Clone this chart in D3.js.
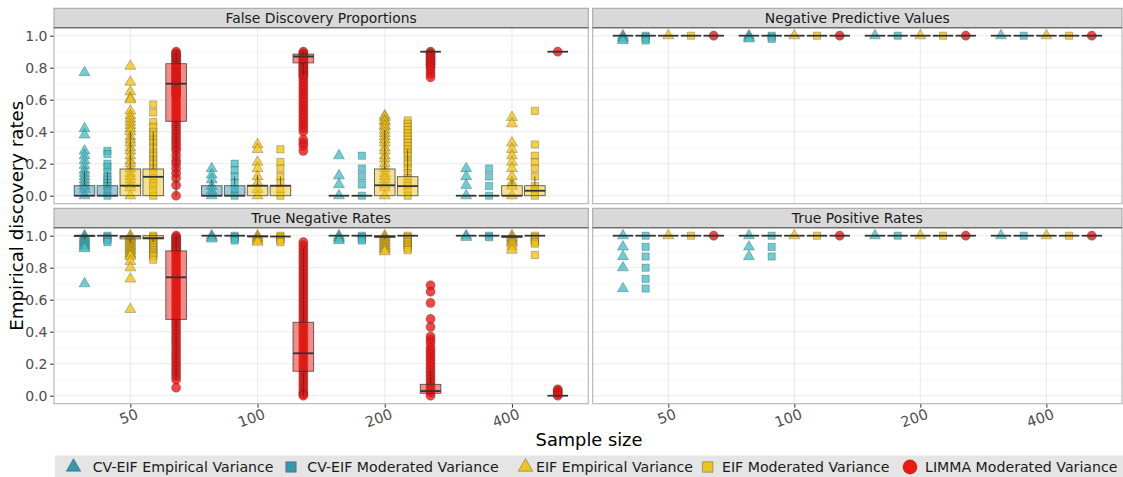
<!DOCTYPE html>
<html>
<head>
<meta charset="utf-8">
<script src="https://cdn.jsdelivr.net/npm/d3@7"></script>
<style>
  body { margin: 0; background: #fff; }
  svg { display: block; font-family: "DejaVu Sans", sans-serif; }
</style>
</head>
<body>
<svg id="chart" width="1123" height="477"></svg>
<script>
const sampleSizes = ['50', '100', '200', '400']
const methods = [
  'CV-EIF Empirical Variance',
  'CV-EIF Moderated Variance',
  'EIF Empirical Variance',
  'EIF Moderated Variance',
  'LIMMA Moderated Variance'
]
const methodShapes = ['triangle', 'square', 'triangle', 'square', 'circle']
const boxColors = ['#3597B0', '#3597B0', '#EEC421', '#EEC421', '#EE1A10']
const pointColors = ['#40C0C8', '#40C0C8', '#F4C20D', '#F4C20D', '#EE1111']
const yTicks = [0, 0.2, 0.4, 0.6, 0.8, 1.0]
const yMinor = [0.1, 0.3, 0.5, 0.7, 0.9]
const facetTitles = ['False Discovery Proportions', 'Negative Predictive Values', 'True Negative Rates', 'True Positive Rates']

// box stats: [lower whisker, q1, median, q3, upper whisker]
// order: sample size 50,100,200,400, each with the 5 methods
const fdpBox = [
  [0, 0, 0, 0.0625, 0.15], [0, 0, 0, 0.0625, 0.15], [0, 0, 0.0625, 0.167, 0.4], [0, 0, 0.118, 0.167, 0.4], [0, 0.465, 0.70, 0.825, 0.9],
  [0, 0, 0, 0.0625, 0.1], [0, 0, 0, 0.0625, 0.12], [0, 0, 0.0625, 0.0625, 0.13], [0, 0, 0.0625, 0.0625, 0.12], [0.75, 0.83, 0.87, 0.885, 0.9],
  [0, 0, 0, 0, 0], [0, 0, 0, 0, 0], [0, 0, 0.065, 0.167, 0.41], [0, 0, 0.06, 0.119, 0.29], [0.9, 0.9, 0.9, 0.9, 0.9],
  [0, 0, 0, 0, 0], [0, 0, 0, 0, 0], [0, 0, 0, 0.0625, 0.1], [0, 0, 0.031, 0.0625, 0.12], [0.9, 0.9, 0.9, 0.9, 0.9]
]
const fdpPts = [
  [0.77, 0.42, 0.38, 0.28, 0.25, 0.22, 0.19, 0.16, 0.14, 0.12, 0.1, 0.08, 0.06, 0.04, 0],
  [0.28, 0.26, 0.2, 0.18, 0.15, 0.12, 0.1, 0.08, 0.06, 0.03, 0],
  [0.81, 0.71, 0.65, 0.61, 0.6, 0.53, 0.5, 0.48, 0.46, 0.44, 0.42, 0.4, 0.37, 0.35, 0.33, 0.3, 0.28, 0.25, 0.22, 0.2, 0.17, 0.14, 0.12, 0.1, 0.07, 0.05, 0],
  [0.57, 0.52, 0.46, 0.43, 0.4, 0.38, 0.35, 0.33, 0.3, 0.27, 0.25, 0.22, 0.2, 0.17, 0.14, 0.11, 0.08, 0.06, 0.03, 0],
  [0.9, 0.89, 0.88, 0.87, 0.86, 0.85, 0.84, 0.83, 0.82, 0.81, 0.8, 0.79, 0.78, 0.77, 0.76, 0.75, 0.74, 0.73, 0.72, 0.71, 0.7, 0.69, 0.68, 0.67, 0.66, 0.65, 0.64, 0.63, 0.62, 0.6, 0.58, 0.56, 0.54, 0.52, 0.5, 0.48, 0.46, 0.44, 0.42, 0.4, 0.38, 0.36, 0.34, 0.32, 0.3, 0.28, 0.25, 0.22, 0.2, 0.17, 0.14, 0.11, 0.065, 0],
  [0.17, 0.13, 0.1, 0.06, 0.03, 0],
  [0.2, 0.16, 0.12, 0.08, 0.04, 0],
  [0.32, 0.29, 0.21, 0.17, 0.12, 0.08, 0.04, 0],
  [0.29, 0.21, 0.17, 0.12, 0.08, 0.04, 0],
  [0.9, 0.89, 0.88, 0.87, 0.86, 0.85, 0.84, 0.83, 0.82, 0.81, 0.8, 0.79, 0.78, 0.77, 0.76, 0.75, 0.74, 0.72, 0.7, 0.68, 0.66, 0.64, 0.62, 0.6, 0.58, 0.56, 0.54, 0.52, 0.5, 0.48, 0.46, 0.44, 0.42, 0.4, 0.35, 0.33, 0.31, 0.28],
  [0.25, 0.125, 0.07, 0],
  [0.25, 0.17, 0.12, 0.07, 0],
  [0.5, 0.49, 0.47, 0.46, 0.44, 0.43, 0.41, 0.39, 0.37, 0.35, 0.33, 0.3, 0.28, 0.25, 0.23, 0.2, 0.17, 0.14, 0.12, 0.1, 0.07, 0.05, 0],
  [0.47, 0.45, 0.43, 0.41, 0.39, 0.37, 0.35, 0.33, 0.31, 0.29, 0.27, 0.25, 0.22, 0.2, 0.17, 0.14, 0.11, 0.08, 0.06, 0.03, 0],
  [0.9, 0.89, 0.88, 0.87, 0.86, 0.85, 0.84, 0.83, 0.82, 0.81, 0.8, 0.78, 0.76, 0.74],
  [0.17, 0.12, 0.065, 0],
  [0.17, 0.12, 0.06, 0],
  [0.49, 0.45, 0.33, 0.29, 0.25, 0.21, 0.17, 0.12, 0.08, 0.06, 0],
  [0.53, 0.32, 0.25, 0.21, 0.17, 0.12, 0.06, 0.03, 0],
  [0.9]
]

const npvBox = [
  [1, 1, 1, 1, 1], [1, 1, 1, 1, 1], [1, 1, 1, 1, 1], [1, 1, 1, 1, 1], [1, 1, 1, 1, 1],
  [1, 1, 1, 1, 1], [1, 1, 1, 1, 1], [1, 1, 1, 1, 1], [1, 1, 1, 1, 1], [1, 1, 1, 1, 1],
  [1, 1, 1, 1, 1], [1, 1, 1, 1, 1], [1, 1, 1, 1, 1], [1, 1, 1, 1, 1], [1, 1, 1, 1, 1],
  [1, 1, 1, 1, 1], [1, 1, 1, 1, 1], [1, 1, 1, 1, 1], [1, 1, 1, 1, 1], [1, 1, 1, 1, 1]
]
const npvPts = [
  [1, 0.99, 0.98, 0.97], [1, 0.99, 0.98, 0.97], [1], [1], [1],
  [1, 0.99, 0.98], [1, 0.99, 0.98], [1], [1], [1],
  [1], [1], [1], [1], [1],
  [1], [1], [1], [1], [1]
]

const tnrBox = [
  [0.98, 0.995, 1, 1, 1], [1, 1, 1, 1, 1], [0.955, 0.98, 0.995, 1, 1], [0.96, 0.98, 0.985, 1, 1], [0.1, 0.477, 0.74, 0.905, 1],
  [1, 1, 1, 1, 1], [1, 1, 1, 1, 1], [0.99, 0.995, 0.995, 1, 1], [1, 1, 0.995, 1, 1], [0, 0.153, 0.265, 0.459, 0.92],
  [1, 1, 1, 1, 1], [1, 1, 1, 1, 1], [0.98, 0.99, 0.995, 1, 1], [1, 1, 1, 1, 1], [0, 0.015, 0.029, 0.071, 0.155],
  [1, 1, 1, 1, 1], [1, 1, 1, 1, 1], [0.98, 0.99, 0.995, 1, 1], [1, 1, 1, 1, 1], [0, 0, 0, 0, 0]
]
const tnrPts = [
  [1, 0.99, 0.98, 0.97, 0.96, 0.95, 0.94, 0.93, 0.92, 0.7],
  [1, 0.99, 0.98, 0.97, 0.96],
  [1, 0.99, 0.98, 0.97, 0.96, 0.95, 0.94, 0.93, 0.92, 0.91, 0.9, 0.89, 0.88, 0.87, 0.84, 0.8, 0.73, 0.54],
  [1, 0.99, 0.98, 0.97, 0.96, 0.95, 0.94, 0.93, 0.92, 0.91, 0.9, 0.89, 0.88, 0.87, 0.85],
  [1, 0.99, 0.98, 0.97, 0.96, 0.95, 0.94, 0.93, 0.92, 0.91, 0.9, 0.88, 0.86, 0.84, 0.82, 0.8, 0.78, 0.76, 0.74, 0.72, 0.7, 0.68, 0.66, 0.64, 0.62, 0.6, 0.58, 0.56, 0.54, 0.52, 0.5, 0.48, 0.46, 0.44, 0.42, 0.4, 0.38, 0.36, 0.34, 0.32, 0.3, 0.28, 0.26, 0.24, 0.22, 0.2, 0.18, 0.16, 0.14, 0.12, 0.1, 0.05],
  [1, 0.99, 0.98],
  [1, 0.99, 0.98, 0.97],
  [1, 0.99, 0.98, 0.97, 0.96],
  [1, 0.99, 0.98, 0.97, 0.96],
  [0.96, 0.94, 0.92, 0.9, 0.88, 0.86, 0.84, 0.82, 0.8, 0.78, 0.76, 0.74, 0.72, 0.7, 0.68, 0.66, 0.64, 0.62, 0.6, 0.58, 0.56, 0.54, 0.52, 0.5, 0.48, 0.46, 0.44, 0.42, 0.4, 0.38, 0.36, 0.34, 0.32, 0.3, 0.28, 0.26, 0.24, 0.22, 0.2, 0.18, 0.16, 0.14, 0.12, 0.1, 0.08, 0.06, 0.04, 0.02, 0.01, 0],
  [1, 0.99, 0.98, 0.97],
  [1, 0.99, 0.98, 0.97],
  [1, 0.99, 0.98, 0.97, 0.96, 0.95, 0.94, 0.93, 0.92, 0.91, 0.9],
  [1, 0.99, 0.98, 0.97, 0.96, 0.95, 0.94, 0.93, 0.92, 0.91],
  [0.69, 0.65, 0.58, 0.48, 0.43, 0.37, 0.35, 0.33, 0.3, 0.28, 0.26, 0.24, 0.22, 0.2, 0.18, 0.16, 0.14, 0.12, 0.1, 0.08, 0.06, 0.04, 0.02, 0],
  [1, 0.99],
  [1, 0.99],
  [1, 0.99, 0.98, 0.97, 0.96, 0.95, 0.93, 0.91],
  [1, 0.99, 0.98, 0.97, 0.96, 0.95, 0.88],
  [0.04, 0.03, 0.02, 0.01, 0]
]

const tprBox = npvBox
const tprPts = [
  [1, 0.93, 0.87, 0.8, 0.67], [1, 0.93, 0.87, 0.8, 0.73, 0.67], [1], [1], [1],
  [1, 0.93, 0.87], [1, 0.93, 0.87], [1], [1], [1],
  [1], [1], [1], [1], [1],
  [1], [1], [1], [1], [1]
]

const svg = d3.select('#chart')

const panelCols = [[54, 588.3], [592.7, 1122]]
const panelRows = [27.7, 227.7]
const panelH = 176
const stripH = 19.4

const facets = [
  { title: facetTitles[0], box: fdpBox, pts: fdpPts, col: 0, row: 0 },
  { title: facetTitles[1], box: npvBox, pts: npvPts, col: 1, row: 0 },
  { title: facetTitles[2], box: tnrBox, pts: tnrPts, col: 0, row: 1 },
  { title: facetTitles[3], box: tprBox, pts: tprPts, col: 1, row: 1 }
]

function symbolFor(shape) {
  if (shape === 'triangle') return d3.symbol().type(d3.symbolTriangle).size(52)
  if (shape === 'square') return d3.symbol().type(d3.symbolSquare).size(52)
  return d3.symbol().type(d3.symbolCircle).size(66)
}

function drawPanel(f) {
  const [x0, x1] = panelCols[f.col]
  const top = panelRows[f.row]
  const bottom = top + panelH

  const x = d3.scalePoint().domain(sampleSizes).range([x0, x1]).padding(0.6)
  const y = d3.scaleLinear().domain([-0.05, 1.05]).range([bottom, top])
  const step = x.step()
  const dodge = i => (i - 2) * 0.18 * step
  const halfW = 0.081 * step

  const g = svg.append('g')

  g.append('rect')
    .attr('x', x0).attr('y', top).attr('width', x1 - x0).attr('height', panelH)
    .attr('fill', '#fff')

  g.selectAll('line.minor').data(yMinor).enter().append('line')
    .attr('x1', x0).attr('x2', x1)
    .attr('y1', d => y(d)).attr('y2', d => y(d))
    .attr('stroke', '#F2F2F2').attr('stroke-width', 0.6)
  g.selectAll('line.major').data(yTicks).enter().append('line')
    .attr('x1', x0).attr('x2', x1)
    .attr('y1', d => y(d)).attr('y2', d => y(d))
    .attr('stroke', '#EBEBEB').attr('stroke-width', 1.1)
  g.selectAll('line.vmajor').data(sampleSizes).enter().append('line')
    .attr('x1', d => x(d)).attr('x2', d => x(d))
    .attr('y1', top).attr('y2', bottom)
    .attr('stroke', '#EBEBEB').attr('stroke-width', 1.1)

  // points first, boxes on top with transparent fill
  sampleSizes.forEach((s, si) => {
    methods.forEach((m, mi) => {
      const cx = x(s) + dodge(mi)
      const vals = f.pts[si * 5 + mi]
      g.append('g').selectAll('path').data(vals).enter().append('path')
        .attr('d', symbolFor(methodShapes[mi]))
        .attr('transform', d => `translate(${cx},${y(d)})`)
        .attr('fill', pointColors[mi])
        .attr('fill-opacity', 0.78)
        .attr('stroke', '#333')
        .attr('stroke-opacity', 0.5)
        .attr('stroke-width', 0.6)
    })
  })

  sampleSizes.forEach((s, si) => {
    methods.forEach((m, mi) => {
      const cx = x(s) + dodge(mi)
      const [lo, q1, med, q3, hi] = f.box[si * 5 + mi]
      const bg = g.append('g')
      bg.append('line')
        .attr('x1', cx).attr('x2', cx).attr('y1', y(hi)).attr('y2', y(q3))
        .attr('stroke', '#333').attr('stroke-opacity', 0.8).attr('stroke-width', 0.9)
      bg.append('line')
        .attr('x1', cx).attr('x2', cx).attr('y1', y(q1)).attr('y2', y(lo))
        .attr('stroke', '#333').attr('stroke-opacity', 0.8).attr('stroke-width', 0.9)
      bg.append('rect')
        .attr('x', cx - halfW).attr('width', 2 * halfW)
        .attr('y', y(q3)).attr('height', Math.max(0, y(q1) - y(q3)))
        .attr('fill', boxColors[mi]).attr('fill-opacity', 0.5)
        .attr('stroke', '#333').attr('stroke-opacity', 0.8).attr('stroke-width', 0.9)
      bg.append('line')
        .attr('x1', cx - halfW).attr('x2', cx + halfW).attr('y1', y(med)).attr('y2', y(med))
        .attr('stroke', '#333').attr('stroke-width', 1.8)
    })
  })

  g.append('rect')
    .attr('x', x0).attr('y', top).attr('width', x1 - x0).attr('height', panelH)
    .attr('fill', 'none').attr('stroke', '#B3B3B3').attr('stroke-width', 1.1)

  // strip
  g.append('rect')
    .attr('x', x0).attr('y', top - stripH).attr('width', x1 - x0).attr('height', stripH)
    .attr('fill', '#D9D9D9').attr('stroke', '#A6A6A6').attr('stroke-width', 1.1)
  g.append('line')
    .attr('x1', x0).attr('x2', x1).attr('y1', top).attr('y2', top)
    .attr('stroke', '#595959').attr('stroke-width', 1.1)
  g.append('text')
    .attr('x', (x0 + x1) / 2).attr('y', top - stripH / 2)
    .attr('dy', '0.36em')
    .attr('text-anchor', 'middle')
    .attr('fill', '#1A1A1A')
    .style('font-size', '13.9px')
    .text(f.title)

  if (f.col === 0) {
    const ay = g.append('g')
      .attr('transform', `translate(${x0 - 0.5},0)`)
      .call(d3.axisLeft(y).tickValues(yTicks).tickFormat(d3.format('.1f')).tickSize(3.5).tickPadding(2.5))
    ay.select('.domain').remove()
    ay.selectAll('line').attr('stroke', '#333')
    ay.selectAll('text').attr('fill', '#4D4D4D').style('font-size', '14px').style('font-family', '"DejaVu Sans", sans-serif')
  }

  if (f.row === 1) {
    const ax = g.append('g')
      .attr('transform', `translate(0,${bottom + 0.5})`)
      .call(d3.axisBottom(x).tickSize(3.5).tickPadding(2))
    ax.select('.domain').remove()
    ax.selectAll('line').attr('stroke', '#333')
    ax.selectAll('text')
      .attr('fill', '#4D4D4D')
      .style('font-size', '14.5px')
      .style('font-family', '"DejaVu Sans", sans-serif')
      .attr('text-anchor', 'end')
      .attr('x', 3)
      .attr('y', 5)
      .attr('dy', '0.75em')
      .attr('transform', 'rotate(-20)')
  }
}

facets.forEach(drawPanel)

svg.append('text')
  .attr('transform', 'translate(23,215.7) rotate(-90)')
  .attr('text-anchor', 'middle')
  .attr('fill', '#000')
  .style('font-size', '18.2px')
  .text('Empirical discovery rates')

svg.append('text')
  .attr('x', 589).attr('y', 446)
  .attr('text-anchor', 'middle')
  .attr('fill', '#000')
  .style('font-size', '17.8px')
  .text('Sample size')

// legend
const legendKeyX = [73.5, 291, 525.5, 707.7, 910]
const legendTextX = [92.7, 307.3, 536, 722, 925]
const legend = svg.append('g')
legend.append('rect')
  .attr('x', 55).attr('y', 455.5).attr('width', 1068).attr('height', 25)
  .attr('fill', '#E5E5E5')

methods.forEach((m, mi) => {
  const item = legend.append('g')
  const shape = methodShapes[mi]
  const sym = shape === 'circle' ? d3.symbol().type(d3.symbolCircle).size(160)
    : shape === 'triangle' ? d3.symbol().type(d3.symbolTriangle).size(92)
    : d3.symbol().type(d3.symbolSquare).size(110)
  item.append('path')
    .attr('d', sym)
    .attr('transform', `translate(${legendKeyX[mi]},467)`)
    .attr('fill', boxColors[mi])
    .attr('stroke', '#333')
    .attr('stroke-opacity', 0.6)
    .attr('stroke-width', 0.6)
  item.append('text')
    .attr('x', legendTextX[mi]).attr('y', 467)
    .attr('dy', '0.36em')
    .attr('fill', '#1A1A1A')
    .style('font-size', '14.15px')
    .text(m)
})
</script>
</body>
</html>
